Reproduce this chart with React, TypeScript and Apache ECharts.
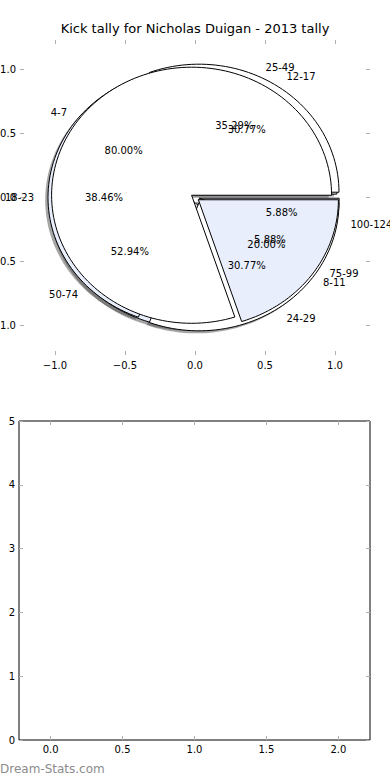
import React, { useEffect, useRef } from "react";
import * as echarts from "echarts";

const chartTitle = "Kick tally for Nicholas Duigan - 2013 tally";

// Pie A (distance bands)
const pieALabels = ["25-49", "50-74", "75-99", "100-124"];
const pieAValues = [6, 9, 1, 1];
// Pie B
const pieBLabels = ["12-17", "18-23", "24-29"];
const pieBValues = [4, 5, 4];
// Pie C
const pieCLabels = ["4-7", "8-11"];
const pieCValues = [4, 1];

const topTicks = [-1, -0.5, 0, 0.5, 1];
const bottomXTicks = [0, 0.5, 1, 1.5, 2];

const explodeA = 0.03;
const explodeB = 0.05;
const explodeC = 0.03;
const sliceColors = ["#ffffff", "#e8eefc"];
const FONT = "DejaVu Sans";
const TICK = "#b0b0b0";

type Slice = {
  label: string;
  pct: string;
  a0: number;
  a1: number;
  cx: number;
  cy: number;
  mid: number;
  color: string;
};

function buildSlices(labels: string[], values: number[], explode: number): Slice[] {
  const total = values.reduce((a, b) => a + b, 0);
  let acc = 0;
  return values.map((v, i) => {
    const a0 = (acc / total) * 360;
    acc += v;
    const a1 = (acc / total) * 360;
    const mid = (((a0 + a1) / 2) * Math.PI) / 180;
    return {
      label: labels[i],
      pct: ((v / total) * 100).toFixed(2) + "%",
      a0,
      a1,
      cx: explode * Math.cos(mid),
      cy: explode * Math.sin(mid),
      mid,
      color: sliceColors[i % 2],
    };
  });
}

const fmt = (v: number) => v.toFixed(1).replace("-", "\u2212");

export default function App() {
  const ref = useRef<HTMLDivElement>(null);
  useEffect(() => {
    if (!ref.current) return;
    const chart = echarts.init(ref.current, null, { renderer: "svg" });
    const pies = [
      buildSlices(pieALabels, pieAValues, explodeA),
      buildSlices(pieBLabels, pieBValues, explodeB),
      buildSlices(pieCLabels, pieCValues, explodeC),
    ];
    const all = pies.flat();

    const wedgePoints = (api: any, s: Slice, ox: number, oy: number) => {
      const cx = api.value(0) + ox;
      const cy = api.value(1) + oy;
      const pts: number[][] = [api.coord([cx, cy])];
      const n = Math.max(2, Math.ceil((s.a1 - s.a0) / 2));
      for (let k = 0; k <= n; k++) {
        const a = ((s.a0 + ((s.a1 - s.a0) * k) / n) * Math.PI) / 180;
        pts.push(api.coord([cx + Math.cos(a), cy + Math.sin(a)]));
      }
      return pts;
    };

    const shadowSeries = {
      type: "custom",
      coordinateSystem: "cartesian2d",
      xAxisIndex: 0,
      yAxisIndex: 0,
      clip: false,
      silent: true,
      data: all.map((s) => [s.cx, s.cy]),
      renderItem: (params: any, api: any) => {
        const s = all[params.dataIndex];
        return {
          type: "polygon",
          shape: { points: wedgePoints(api, s, -0.02, -0.02) },
          style: { fill: "rgba(77,77,77,0.5)", stroke: "none" },
        };
      },
    };

    const wedgeSeries = pies.map((slices) => ({
      type: "custom",
      coordinateSystem: "cartesian2d",
      xAxisIndex: 0,
      yAxisIndex: 0,
      clip: false,
      silent: true,
      data: slices.map((s) => [s.cx, s.cy]),
      renderItem: (params: any, api: any) => {
        const s = slices[params.dataIndex];
        return {
          type: "polygon",
          shape: { points: wedgePoints(api, s, 0, 0) },
          style: { fill: s.color, stroke: "#000", lineWidth: 1 },
        };
      },
    }));

    const labelSeries = {
      type: "custom",
      coordinateSystem: "cartesian2d",
      xAxisIndex: 0,
      yAxisIndex: 0,
      clip: false,
      silent: true,
      data: all.map((s) => [s.cx, s.cy]),
      renderItem: (params: any, api: any) => {
        const s = all[params.dataIndex];
        const cx = api.value(0);
        const cy = api.value(1);
        const xt = cx + 1.1 * Math.cos(s.mid);
        const yt = cy + 1.1 * Math.sin(s.mid);
        const pl = api.coord([xt, yt]);
        const pp = api.coord([cx + 0.6 * Math.cos(s.mid), cy + 0.6 * Math.sin(s.mid)]);
        return {
          type: "group",
          children: [
            {
              type: "text",
              x: pl[0],
              y: pl[1],
              style: {
                text: s.label,
                align: xt > 0 ? "left" : "right",
                verticalAlign: "middle",
                fontSize: 10,
                fontFamily: FONT,
                fill: "#000",
              },
            },
            {
              type: "text",
              x: pp[0],
              y: pp[1],
              style: {
                text: s.pct,
                align: "center",
                verticalAlign: "middle",
                fontSize: 10,
                fontFamily: FONT,
                fill: "#000",
              },
            },
          ],
        };
      },
    };

    const tick = (values: number[]) => ({
      show: true,
      inside: true,
      length: 4,
      customValues: values,
      lineStyle: { color: TICK, width: 1 },
    });
    const noLine = { show: false, onZero: false };
    const labelStyle = { fontSize: 10, fontFamily: FONT, color: "#000" };

    chart.setOption({
      animation: false,
      backgroundColor: "#fff",
      title: {
        text: chartTitle,
        left: "center",
        top: 22,
        padding: 0,
        textStyle: { fontSize: 13, fontWeight: "normal", fontFamily: FONT, color: "#000" },
      },
      grid: [
        { left: 20, right: 20, top: 40, bottom: 425, show: false, outerBoundsMode: "none", containLabel: false },
        { left: 19, right: 20, top: 421, bottom: 40, show: true, borderColor: "#000", borderWidth: 1, backgroundColor: "transparent", outerBoundsMode: "none", containLabel: false },
      ],
      xAxis: [
        {
          type: "value", gridIndex: 0, position: "bottom", min: -1.25, max: 1.25,
          axisLine: noLine, splitLine: { show: false }, axisTick: tick(topTicks),
          axisLabel: { ...labelStyle, margin: 5, customValues: topTicks, formatter: fmt },
        },
        {
          type: "value", gridIndex: 0, position: "top", min: -1.25, max: 1.25,
          axisLine: noLine, splitLine: { show: false }, axisTick: tick(topTicks),
          axisLabel: { show: false },
        },
        {
          type: "value", gridIndex: 1, position: "bottom", min: -0.22, max: 2.22,
          axisLine: noLine, splitLine: { show: false }, axisTick: tick(bottomXTicks),
          axisLabel: { ...labelStyle, margin: 4, customValues: bottomXTicks, formatter: fmt },
        },
        {
          type: "value", gridIndex: 1, position: "top", min: -0.22, max: 2.22,
          axisLine: noLine, splitLine: { show: false }, axisTick: tick(bottomXTicks),
          axisLabel: { show: false },
        },
      ],
      yAxis: [
        {
          type: "value", gridIndex: 0, position: "left", min: -1.23, max: 1.23,
          axisLine: noLine, splitLine: { show: false }, axisTick: tick(topTicks),
          axisLabel: { ...labelStyle, margin: 4, customValues: topTicks, formatter: fmt },
        },
        {
          type: "value", gridIndex: 0, position: "right", min: -1.23, max: 1.23,
          axisLine: noLine, splitLine: { show: false }, axisTick: tick(topTicks),
          axisLabel: { show: false },
        },
        {
          type: "value", gridIndex: 1, position: "left", min: 0, max: 5, interval: 1,
          axisLine: noLine, splitLine: { show: false },
          axisTick: { show: true, inside: true, length: 4, lineStyle: { color: TICK } },
          axisLabel: { ...labelStyle, margin: 4 },
        },
        {
          type: "value", gridIndex: 1, position: "right", min: 0, max: 5, interval: 1,
          axisLine: noLine, splitLine: { show: false },
          axisTick: { show: true, inside: true, length: 4, lineStyle: { color: TICK } },
          axisLabel: { show: false },
        },
      ],
      graphic: [
        {
          type: "text",
          left: 0,
          top: 763,
          style: { text: "Dream-Stats.com", fontSize: 12, fontFamily: FONT, fill: "#8c8c8c" },
        },
      ],
      series: [shadowSeries, ...wedgeSeries, labelSeries],
    });
    return () => chart.dispose();
  }, []);
  return (
    <div
      ref={ref}
      style={{ position: "fixed", left: 0, top: 0, width: 390, height: 780, background: "#fff" }}
    />
  );
}
